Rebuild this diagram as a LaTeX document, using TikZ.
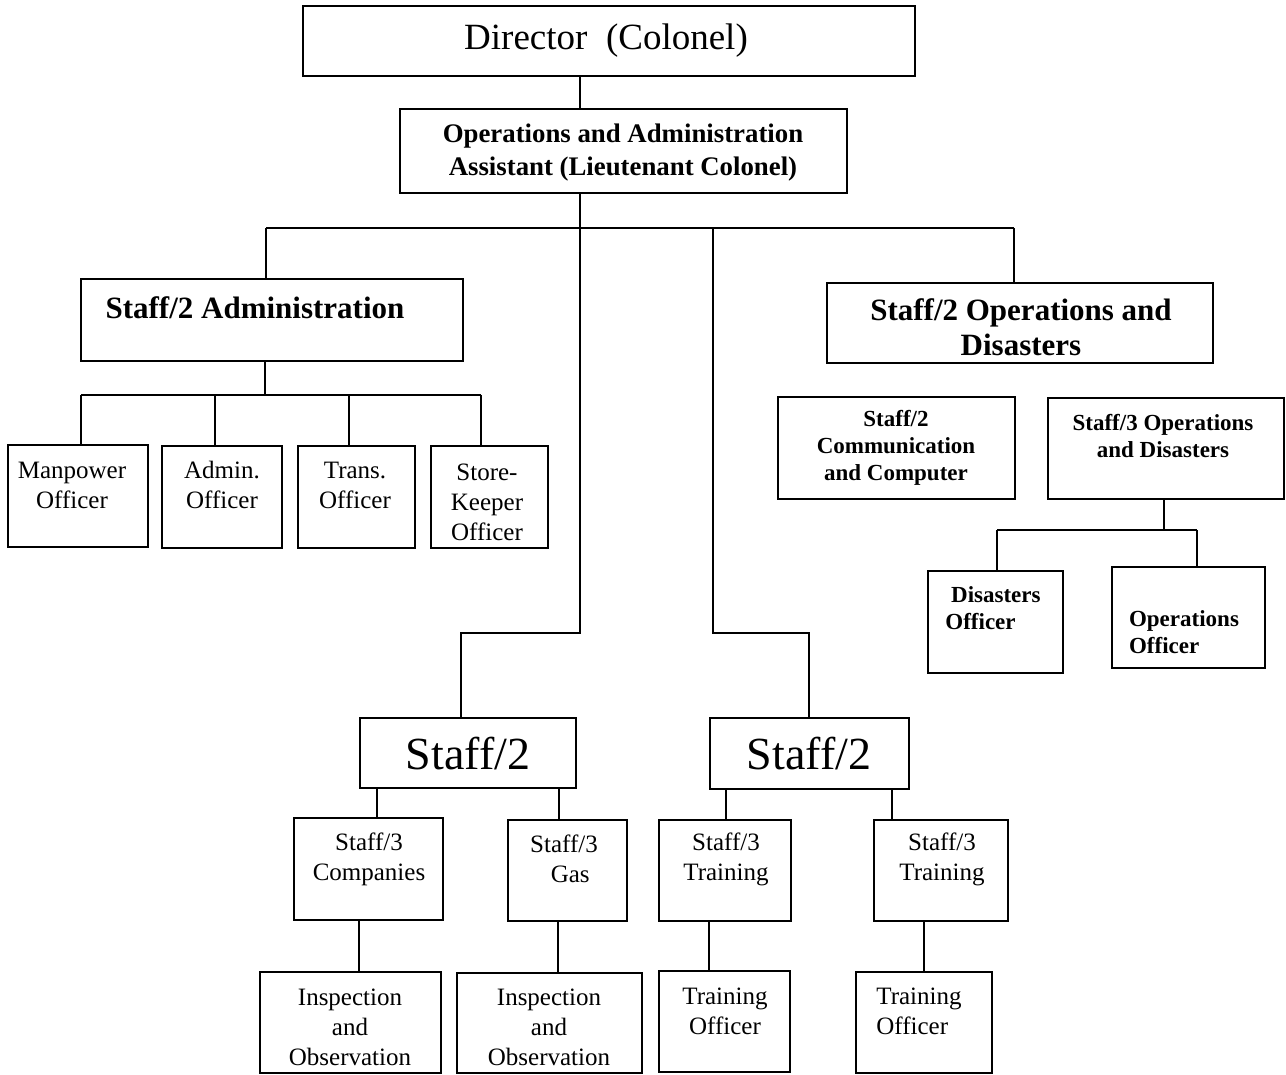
\documentclass[tikz,border=0pt]{standalone}
\usepackage{fontspec}
\setmainfont{Liberation Serif}
\newcommand\fDir{\fontsize{18.5}{22}\selectfont}
\newcommand\fBig{\fontsize{23}{27}\selectfont}
\newcommand\fReg{\fontsize{12.5}{15}\selectfont}
\newcommand\fHead{\fontsize{15.5}{17.5}\selectfont\bfseries}
\newcommand\fOps{\fontsize{13.4}{16.5}\selectfont\bfseries}
\newcommand\fSub{\fontsize{11.5}{13.5}\selectfont\bfseries}
\tikzstyle{box}=[shape = rectangle, draw, line width = 1pt, inner sep = 0pt]
\tikzstyle{txt}=[align = center, inner sep = 0pt]
\tikzset{sz/.style 2 args = {minimum width = #1*0.5pt, minimum height = #2*0.5pt}}

\begin{document}
\begin{tikzpicture}[x = 0.5pt, y = -0.5pt, line width = 0.7pt]
\useasboundingbox (0,0) rectangle (1286,1075);
% boxes
\node[box, sz={612}{70}] (dir) at (609,41) {};
\node[box, sz={447}{84}] (ops) at (623.5,151) {};
\node[box, sz={382}{82}] (adm) at (272,320) {};
\node[box, sz={386}{80}] (opd) at (1020,323) {};
\node[box, sz={140}{102}] (man) at (78,496) {};
\node[box, sz={120}{102}] (admo) at (222,497) {};
\node[box, sz={117}{102}] (tra) at (356.5,497) {};
\node[box, sz={117}{102}] (sto) at (489.5,497) {};
\node[box, sz={237}{102}] (com) at (896.5,448) {};
\node[box, sz={236}{101}] (s3od) at (1166,448.5) {};
\node[box, sz={135}{102}] (diso) at (995.5,622) {};
\node[box, sz={153}{101}] (opso) at (1188.5,617.5) {};
\node[box, sz={216}{70}] (s2a) at (468,753) {};
\node[box, sz={199}{71}] (s2b) at (809.5,753.5) {};
\node[box, sz={149}{102}] (cmp) at (368.5,869) {};
\node[box, sz={119}{101}] (gas) at (567.5,870.5) {};
\node[box, sz={132}{101}] (trn1) at (725,870.5) {};
\node[box, sz={134}{101}] (trn2) at (941,870.5) {};
\node[box, sz={181}{101}] (ins1) at (350.5,1022.5) {};
\node[box, sz={185}{100}] (ins2) at (549.5,1023) {};
\node[box, sz={131}{101}] (tro1) at (724.5,1021.5) {};
\node[box, sz={136}{101}] (tro2) at (924,1022.5) {};
% texts
\node[txt, font = \fDir] (dirT) at (606,41) {Director\ \ (Colonel)};
\node[txt, font = \fOps] (opsT) at (623,153) {Operations and Administration\\Assistant (Lieutenant Colonel)};
\node[txt, font = \fHead] (admT) at (255,308) {Staff/2 Administration};
\node[txt, font = \fHead] (opdT) at (1021,327) {Staff/2 Operations and\\Disasters};
\node[txt, font = \fReg] (manT) at (72,485) {Manpower\\Officer};
\node[txt, font = \fReg] (admoT) at (222,485) {Admin.\\Officer};
\node[txt, font = \fReg] (traT) at (355,485) {Trans.\\Officer};
\node[txt, font = \fReg] (stoT) at (487,502) {Store-\\Keeper\\Officer};
\node[txt, font = \fSub] (comT) at (896,448) {Staff/2\\Communication\\and Computer};
\node[txt, font = \fSub] (s3odT) at (1163,436) {Staff/3 Operations\\and Disasters};
\node[txt, font = \fSub, align = left] (disoT) at (993,608) {\ Disasters\\Officer};
\node[txt, font = \fSub, align = left] (opsoT) at (1184,632) {Operations\\Officer};
\node[txt, font = \fBig] (s2aT) at (468,754) {Staff/2};
\node[txt, font = \fBig] (s2bT) at (809,754) {Staff/2};
\node[txt, font = \fReg] (cmpT) at (369,859) {Staff/3\\Companies};
\node[txt, font = \fReg] (gasT) at (564,859) {Staff/3\\\ \ Gas};
\node[txt, font = \fReg] (trn1T) at (726,859) {Staff/3\\Training};
\node[txt, font = \fReg] (trn2T) at (942,859) {Staff/3\\Training};
\node[txt, font = \fReg] (ins1T) at (350,1027) {Inspection\\and\\Observation};
\node[txt, font = \fReg] (ins2T) at (549,1027) {Inspection\\and\\Observation};
\node[txt, font = \fReg] (tro1T) at (725,1011) {Training\\Officer};
\node[txt, font = \fReg, align = left] (tro2T) at (919,1011) {Training\\Officer};
% top trunk
\coordinate (j0) at (580,228);
\coordinate (j1) at (713,228);
\coordinate (hL) at (266,228);
\coordinate (hR) at (1014,228);
\coordinate (kA) at (461,633);
\coordinate (kB) at (809,633);
\draw (dir.south -| j0) -- (ops.north -| j0);
\draw (ops.south -| j0) -- (j0 |- kA) -- (kA) -- (kA |- s2a.north);
\draw (hL) -- (hR);
\draw (hL) -- (hL |- adm.north);
\draw (hR) -- (hR |- opd.north);
\draw (j1) -- (j1 |- kB) -- (kB) -- (kB |- s2b.north);
% administration row
\coordinate (a0) at (265,395);
\coordinate (aL) at (81,395);
\coordinate (aR) at (481,395);
\draw (adm.south -| a0) -- (a0);
\draw (aL) -- (aR);
\foreach \n/\x in {man/81, admo/215, tra/349, sto/481}{
  \coordinate (t) at (\x,395);
  \draw (t) -- (t |- \n.north);
}
% operations row
\coordinate (b0) at (1164,530);
\coordinate (bL) at (997,530);
\coordinate (bR) at (1197,530);
\draw (s3od.south -| b0) -- (b0);
\draw (bL) -- (bR);
\draw (bL) -- (bL |- diso.north);
\draw (bR) -- (bR |- opso.north);
% lower rows
\foreach \a/\b/\x in {s2a/cmp/377, s2a/gas/559, s2b/trn1/726, s2b/trn2/892,
  cmp/ins1/359, gas/ins2/558, trn1/tro1/709, trn2/tro2/924}{
  \coordinate (t) at (\x,0);
  \draw (t |- \a.south) -- (t |- \b.north);
}
\end{tikzpicture}
\end{document}
